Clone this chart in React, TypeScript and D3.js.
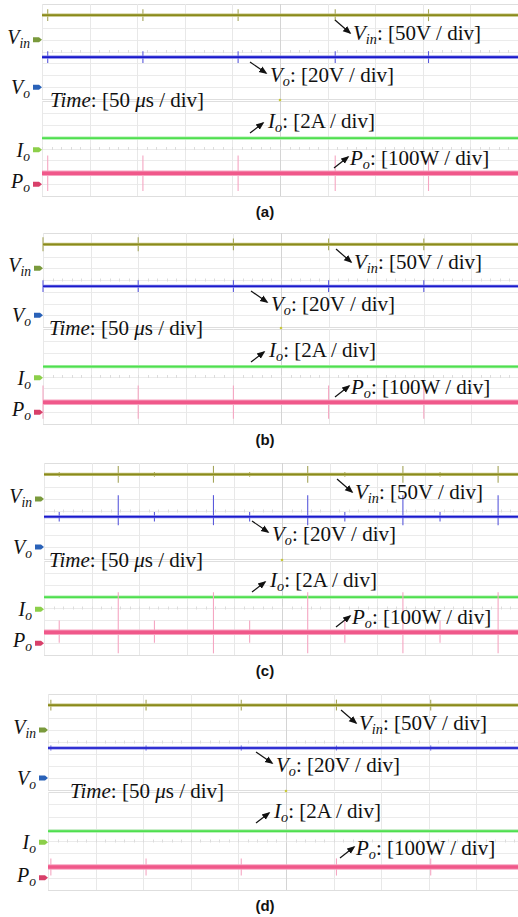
import React from 'react';
import * as d3 from 'd3';

// panel captions
const panelIds = ['(a)', '(b)', '(c)', '(d)'];

// channel names, volts/amps/watts per division
const channels = ['Vin', 'Vo', 'Io', 'Po'];
const perDiv = [50, 20, 2, 100];
const units = ['V', 'V', 'A', 'W'];

const vinLevels = [103, 102, 103, 104];
const voLevels = [50.6, 49.4, 50.4, 50];
const ioLevels = [1.95, 1.85, 2.05, 1.8];
const poLevels = [92, 84, 94, 88];

// switching spikes: time (us) and height up/down (div)
const spikeTimesA = [6, 106, 206, 308, 406];
const spikeTimesB = [0, 100, 200, 300, 400];
const spikeTimesC = [16, 78, 116, 178, 216, 277, 316, 377, 416, 477];
const spikeTimesD = [3, 103, 203, 303, 402];
const spikeVinA = [0.5, 0.5, 0.5, 0.5, 0.5];
const spikeVinB = [0.6, 0.6, 0.5, 0.5, 0.5];
const spikeVinC = [0.2, 0.7, 0.2, 0.7, 0.2, 0.7, 0.2, 0.7, 0.2, 0.7];
const spikeVinD = [0.45, 0.45, 0.45, 0.45, 0.45];
const spikeVoUpA = [0.5, 0.5, 0.5, 0.5, 0.5];
const spikeVoUpB = [0.5, 0.5, 0.5, 0.5, 0.5];
const spikeVoUpC = [0.4, 1.8, 0.4, 1.8, 0.4, 1.8, 0.4, 1.8, 0.4, 1.8];
const spikeVoUpD = [0.2, 0.2, 0.2, 0.2, 0.2];
const spikeVoDnC = [0.4, 0.7, 0.4, 0.7, 0.4, 0.7, 0.4, 0.7, 0.4, 0.7];
const spikePoUpA = [1.5, 1.5, 1.5, 1.5, 1.5];
const spikePoUpB = [1.4, 1.4, 1.4, 1.4, 1.4];
const spikePoUpC = [1.0, 3.4, 1.0, 3.4, 1.0, 3.4, 1.0, 3.4, 1.0, 3.4];
const spikePoUpD = [0.7, 0.7, 0.7, 0.7, 0.7];
const spikePoDnC = [0.9, 1.8, 0.9, 1.8, 0.9, 1.8, 0.9, 1.8, 0.9, 1.8];

const spikeTimes = [spikeTimesA, spikeTimesB, spikeTimesC, spikeTimesD];
const spikeVin = [spikeVinA, spikeVinB, spikeVinC, spikeVinD];
const spikeVoUp = [spikeVoUpA, spikeVoUpB, spikeVoUpC, spikeVoUpD];
const spikeVoDn = [spikeVoUpA, spikeVoUpB, spikeVoDnC, spikeVoUpD];
const spikePoUp = [spikePoUpA, spikePoUpB, spikePoUpC, spikePoUpD];
const spikePoDn = [spikePoUpA, spikePoUpB, spikePoDnC, spikePoUpD];

// screen geometry of each panel (px)
const layout = [
  { left: 42, top: 4, mid: 99, bottom: 196, timeX: 8 },
  { left: 43, top: 233, mid: 327, bottom: 424, timeX: 6 },
  { left: 44, top: 463, mid: 559, bottom: 655, timeX: 5 },
  { left: 48, top: 694, mid: 790, bottom: 890, timeX: 22 },
];

const W = 518;
const H = 917;
const divW = 47.6;
const markerDiv = [1, -3, -0.1, -3]; // ground marker of each channel
const traceCol = ['#8a8a1c', '#1a1acb', '#4fdf4f', '#f0588a'];
const haloCol = ['#c2c27a', '#7a7ae6', '#a8f0a8', '#f7a3c0'];
const spikeCol = ['#a5a55a', '#5a5adc', '#8fe88f', '#f5a6c2'];
const flagCol = ['#7a9a3c', '#2a62b8', '#8ccf4a', '#d8406a'];
const serif = "'Liberation Serif', 'Times New Roman', serif";
const px = (v) => Math.round(v) + 0.5; // crisp 1px grid lines

const Sym = ({ x, y, main, sub, rest, anchor = 'start', size = 21 }) => (
  <text x={x} y={y} fontFamily={serif} fontSize={size} textAnchor={anchor} fill="#111">
    <tspan fontStyle="italic">{main}</tspan>
    <tspan fontStyle="italic" fontSize={size * 0.68} dy={4}>{sub}</tspan>
    {rest ? <tspan dy={-4}>{rest}</tspan> : null}
  </text>
);

const Arrow = ({ x1, y1, x2, y2 }) => (
  <line x1={x1} y1={y1} x2={x2} y2={y2} stroke="#111" strokeWidth={1.2} markerEnd="url(#ah)" />
);

const Panel = ({ i }) => {
  const L = layout[i];
  const x = d3.scaleLinear().domain([0, 500]).range([L.left, L.left + 10 * divW]);
  const yTop = d3.scaleLinear().domain([-4, 4]).range([L.mid, L.top]);
  const yBot = d3.scaleLinear().domain([-4, 4]).range([L.bottom, L.mid + 2]);
  const halves = [yTop, yBot];
  const chScale = [yTop, yTop, yBot, yBot];
  const levels = [vinLevels[i], voLevels[i], ioLevels[i], poLevels[i]];
  const yOf = (c) => chScale[c](markerDiv[c] + levels[c] / perDiv[c]);
  const up = [spikeVin[i], spikeVoUp[i], null, spikePoUp[i]];
  const dn = [spikeVin[i], spikeVoDn[i], null, spikePoDn[i]];
  const divs = d3.range(0, 11);
  const hdivs = d3.range(-4, 5);
  const minor = d3.range(0, 50.01, 1);

  return (
    <g>
      {halves.map((ys, h) => (
        <g key={h}>
          {hdivs.map((d) => (
            <line key={'h' + d} x1={x(0)} x2={x(500)} y1={px(ys(d))} y2={px(ys(d))}
              stroke={d === 4 || d === -4 ? '#dedede' : '#ebebeb'} strokeWidth={1} />
          ))}
          {divs.map((d) => (
            <line key={'v' + d} x1={px(x(d * 50))} x2={px(x(d * 50))} y1={ys(4)} y2={ys(-4)}
              stroke={d === 5 ? '#d4d4d4' : '#e8e8e8'} strokeWidth={1} />
          ))}
          {minor.map((m) => (
            <line key={'m' + m} x1={px(x(m * 10))} x2={px(x(m * 10))} y1={ys(0) - 1.5} y2={ys(0) + 1.5}
              stroke="#dcdcdc" strokeWidth={1} />
          ))}
        </g>
      ))}
      {/* trigger dot */}
      <circle cx={x(250)} cy={L.mid + 1} r={1.3} fill="#c8c83a" />

      {channels.map((ch, c) => {
        const y = yOf(c);
        const thick = c === 3;
        return (
          <g key={ch}>
            {spikeTimes[i].map((t, k) => up[c] ? (
              <line key={k} x1={x(t)} x2={x(t)}
                y1={y - (chScale[c](0) - chScale[c](up[c][k]))}
                y2={y + (chScale[c](0) - chScale[c](dn[c][k]))}
                stroke={spikeCol[c]} strokeWidth={1.1} />
            ) : null)}
            <line x1={x(0)} x2={x(500)} y1={y} y2={y} stroke={haloCol[c]} strokeWidth={thick ? 5.5 : 3.2} />
            <line x1={x(0)} x2={x(500)} y1={y} y2={y} stroke={traceCol[c]} strokeWidth={thick ? 3.5 : 1.7} />
          </g>
        );
      })}

      {/* ground markers and names on the left */}
      {channels.map((ch, c) => {
        const fy = chScale[c](markerDiv[c]);
        const fx = L.left - 9;
        const off = c === 0 || c === 3 ? 4 : 7;
        return (
          <g key={'f' + ch}>
            <path d={`M${fx},${fy - 2.5}h6l3,2.5l-3,2.5h-6z`} fill={flagCol[c]} />
            <Sym x={L.left - 12} y={fy + off} main={ch[0]} sub={ch.slice(1)} anchor="end" size={20} />
          </g>
        );
      })}

      {/* scale annotations */}
      <Arrow x1={L.left + 293} y1={L.top + 16} x2={L.left + 308} y2={L.top + 29} />
      <Sym x={L.left + 311} y={L.top + 36} main="V" sub="in" rest={`: [${perDiv[0]}${units[0]} / div]`} />
      <Arrow x1={L.left + 208} y1={L.top + 58} x2={L.left + 224} y2={L.top + 69} />
      <Sym x={L.left + 228} y={L.top + 78} main="V" sub="o" rest={`: [${perDiv[1]}${units[1]} / div]`} />
      <text x={L.left + L.timeX} y={L.mid + 8} fontFamily={serif} fontSize={21} fill="#111">
        <tspan fontStyle="italic">Time</tspan>: [50 <tspan fontStyle="italic">μ</tspan>s / div]
      </text>
      <Arrow x1={L.left + 208} y1={L.top + 129} x2={L.left + 221} y2={L.top + 119} />
      <Sym x={L.left + 226} y={L.top + 124} main="I" sub="o" rest={`: [${perDiv[2]}${units[2]} / div]`} />
      <Arrow x1={L.left + 292} y1={L.top + 164} x2={L.left + 306} y2={L.top + 153} />
      <Sym x={L.left + 308} y={L.top + 161} main="P" sub="o" rest={`: [${perDiv[3]}${units[3]} / div]`} />

      <text x={265} y={L.bottom + 21} textAnchor="middle" fontFamily="'Liberation Sans', Arial, sans-serif"
        fontWeight="bold" fontSize={15} fill="#111">{panelIds[i]}</text>
    </g>
  );
};

export default function App() {
  return (
    <div style={{ position: 'fixed', left: 0, top: 0, width: W, height: H, background: '#fff' }}>
      <svg width={W} height={H} viewBox={`0 0 ${W} ${H}`}>
        <defs>
          <marker id="ah" viewBox="0 0 10 10" refX="8" refY="5" markerWidth="7" markerHeight="7" orient="auto">
            <path d="M0,1L10,5L0,9z" fill="#111" />
          </marker>
        </defs>
        <rect width={W} height={H} fill="#fff" />
        {panelIds.map((p, i) => <Panel key={p} i={i} />)}
      </svg>
    </div>
  );
}
